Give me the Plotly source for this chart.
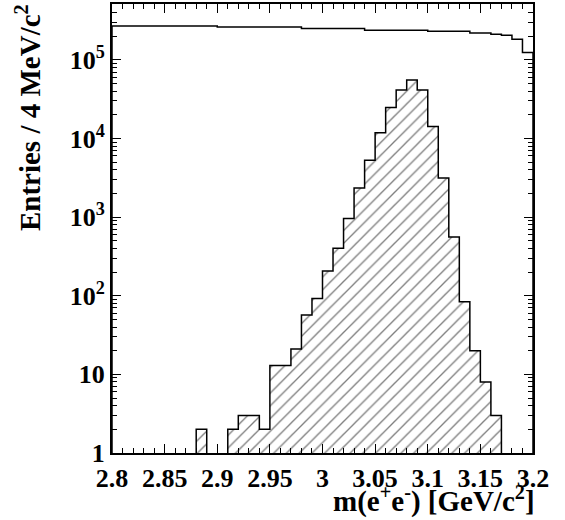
import plotly.graph_objects as go

# ---- data ----
bin_low = [2.80, 2.81, 2.82, 2.83, 2.84, 2.85, 2.86, 2.87, 2.88, 2.89,
           2.90, 2.91, 2.92, 2.93, 2.94, 2.95, 2.96, 2.97, 2.98, 2.99,
           3.00, 3.01, 3.02, 3.03, 3.04, 3.05, 3.06, 3.07, 3.08, 3.09,
           3.10, 3.11, 3.12, 3.13, 3.14, 3.15, 3.16, 3.17, 3.18, 3.19]
bin_width = 0.01
all_counts = [2.69e5, 2.69e5, 2.69e5, 2.69e5, 2.69e5, 2.69e5, 2.69e5, 2.69e5, 2.69e5, 2.69e5,
              2.62e5, 2.62e5, 2.62e5, 2.62e5, 2.62e5, 2.62e5, 2.62e5, 2.62e5, 2.51e5, 2.51e5,
              2.51e5, 2.51e5, 2.51e5, 2.51e5, 2.38e5, 2.38e5, 2.38e5, 2.38e5, 2.38e5, 2.38e5,
              2.31e5, 2.31e5, 2.31e5, 2.31e5, 2.20e5, 2.20e5, 2.12e5, 2.06e5, 1.83e5, 1.24e5]
sig_counts = [0, 0, 0, 0, 0, 0, 0, 0, 2, 0,
              0, 2, 3, 3, 2, 13, 13, 21, 57, 92,
              207, 402, 963, 2350, 5270, 11800, 24700, 41300, 55300, 41300,
              14200, 3140, 558, 84, 20, 8, 3, 0, 0, 0]
x_range = [2.8, 3.2]
y_tickvals = [1, 10, 100, 1000, 10000, 100000]
y_ticktext = ["1", "10", "10<sup>2</sup>", "10<sup>3</sup>", "10<sup>4</sup>", "10<sup>5</sup>"]
x_tickvals = [2.8, 2.85, 2.9, 2.95, 3.0, 3.05, 3.1, 3.15, 3.2]
x_ticktext = ["2.8", "2.85", "2.9", "2.95", "3", "3.05", "3.1", "3.15", "3.2"]

FLOOR = 1e-3

def step_xy(lows, width, counts):
    xs = list(lows) + [lows[-1] + width]
    ys = [c if c > 0 else FLOOR for c in counts]
    ys = ys + [FLOOR]
    xs = [lows[0]] + xs
    ys = [FLOOR] + ys
    return xs, ys

centers = [b + bin_width / 2 for b in bin_low]

fig = go.Figure()

# hatched fill
fig.add_trace(go.Bar(
    x=centers, y=[c if c > 0 else None for c in sig_counts], width=bin_width,
    marker=dict(color="white", line=dict(width=0),
                pattern=dict(shape="/", fgcolor="black", bgcolor="white",
                             size=9, solidity=0.15)),
    showlegend=False, hoverinfo="skip"))

# signal outline
sx, sy = step_xy(bin_low, bin_width, sig_counts)
fig.add_trace(go.Scatter(x=sx, y=sy, mode="lines", line=dict(shape="hv", color="black", width=1.5),
                         showlegend=False))

# all entries outline
ax_, ay_ = step_xy(bin_low, bin_width, all_counts)
fig.add_trace(go.Scatter(x=ax_, y=ay_, mode="lines", line=dict(shape="hv", color="black", width=1.5),
                         showlegend=False))

tfont = dict(family="Liberation Serif", size=26, color="black", weight="bold")

minor_y = []
for d in [1, 10, 100, 1000, 10000, 100000]:
    for m in range(2, 10):
        minor_y.append(m * d)

fig.update_layout(
    width=565, height=520,
    margin=dict(l=112, r=32, t=2, b=67),
    paper_bgcolor="white", plot_bgcolor="white",
    bargap=0,
    font=dict(family="Liberation Serif", size=26, color="black", weight="bold"),
    xaxis=dict(range=x_range, showline=True, linecolor="black", linewidth=2, mirror="allticks",
               ticks="inside", ticklen=9, tickwidth=1.3, tickcolor="black",
               tickmode="array", tickvals=x_tickvals, ticktext=["<b>%s</b>" % t for t in x_ticktext],
               tickfont=tfont, ticklabelstandoff=1,
               minor=dict(ticks="inside", ticklen=5, tickwidth=1.3, tickcolor="black", dtick=0.01, tick0=2.8),
               showgrid=False, zeroline=False, fixedrange=True),
    yaxis=dict(type="log", range=[0, 5.71], showline=True, linecolor="black", linewidth=2, mirror="allticks",
               ticks="inside", ticklen=9, tickwidth=1.3, tickcolor="black",
               tickmode="array", tickvals=y_tickvals, ticktext=["<b>%s</b>" % t for t in y_ticktext],
               tickfont=tfont,
               minor=dict(ticks="inside", ticklen=5, tickwidth=1.3, tickcolor="black",
                          tickmode="array", tickvals=minor_y),
               showgrid=False, zeroline=False, fixedrange=True),
)

fig.add_annotation(text="<b>m(e<sup>+</sup>e<sup>-</sup>) [GeV/c<sup>2</sup>]</b>",
                   xref="paper", yref="paper", x=1.01, y=-0.103, xanchor="right", yanchor="middle",
                   showarrow=False, font=dict(family="Liberation Serif", size=29, color="black"))
fig.add_annotation(text="<b>Entries / 4 MeV/c<sup>2</sup></b>", textangle=-90,
                   xref="paper", yref="paper", x=-0.2, y=1.005, xanchor="center", yanchor="top",
                   showarrow=False, font=dict(family="Liberation Serif", size=29, color="black"))

fig.write_html("out.html")
